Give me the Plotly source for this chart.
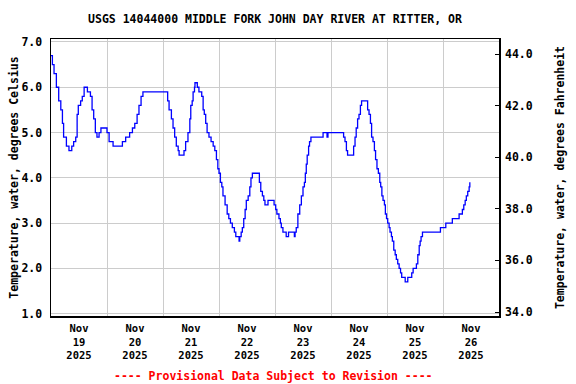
import datetime as dt
import plotly.graph_objects as go

# Hours since 2025-11-19 00:00 and water temperature (deg C)
hours = [0.0, 0.6, 1.3, 2.3, 3.3, 4.2, 4.9, 5.4, 6.6, 7.7, 8.9, 9.7, 10.6, 11.2, 11.7,
         12.7, 13.4, 14.2, 15.6, 16.9, 17.6, 18.3, 19.0, 19.7, 20.6, 21.4, 24.0, 24.9,
         26.6, 30.6, 32.0, 33.7, 34.9, 35.9, 36.9, 37.7, 38.6, 39.4, 49.5, 50.0, 50.6,
         51.6, 52.3, 53.0, 53.7, 54.5, 54.9, 57.0, 57.7, 58.7, 59.5, 59.9, 60.5, 60.9,
         61.5, 61.7, 62.7, 63.4, 64.6, 65.2, 65.7, 66.3, 66.9, 67.7, 68.6, 69.5, 70.2,
         70.9, 71.5, 72.0, 72.6, 73.2, 73.7, 74.6, 75.5, 76.2, 76.9, 77.7, 78.6, 79.2,
         80.6, 80.9, 81.5, 82.0, 82.6, 83.2, 83.7, 84.5, 85.2, 85.7, 86.3, 89.3, 89.9,
         90.6, 91.2, 91.7, 93.0, 95.6, 96.3, 96.8, 97.7, 98.3, 98.7, 99.4, 100.8, 101.8,
         104.3, 104.6, 105.1, 105.8, 106.6, 107.3, 108.0, 108.6, 109.0, 109.4, 109.8,
         110.4, 110.8, 111.4, 116.6, 118.3, 118.7, 125.4, 126.0, 126.6, 127.1, 129.7,
         130.3, 130.8, 131.4, 132.0, 132.6, 133.1, 135.7, 136.3, 136.9, 137.4, 138.0,
         138.6, 139.1, 139.7, 140.3, 140.9, 141.3, 141.8, 142.3, 142.9, 143.3, 143.8,
         144.3, 144.9, 145.3, 145.9, 146.3, 146.9, 147.5, 148.0, 148.6, 149.2, 149.8,
         150.3, 151.8, 152.9, 154.6, 155.2, 156.6, 157.2, 157.8, 158.2, 158.6, 159.2,
         166.9, 169.2, 172.0, 174.9, 176.3, 176.9, 177.5, 178.0, 178.6, 179.2, 179.5]
temp_c = [6.7, 6.5, 6.3, 6.0, 5.7, 5.5, 5.2, 4.9, 4.7, 4.6, 4.7, 4.8, 4.9, 5.4, 5.6,
          5.7, 5.8, 6.0, 5.9, 5.8, 5.5, 5.3, 5.0, 4.9, 5.0, 5.1, 5.0, 4.8,
          4.7, 4.8, 4.9, 5.0, 5.1, 5.2, 5.4, 5.6, 5.8, 5.9, 5.9, 5.7, 5.5,
          5.3, 5.1, 4.9, 4.7, 4.6, 4.5, 4.6, 4.8, 5.0, 5.3, 5.6, 5.7, 5.9,
          6.0, 6.1, 6.0, 5.9, 5.8, 5.5, 5.4, 5.2, 5.0, 4.9, 4.8, 4.7, 4.6,
          4.4, 4.2, 4.1, 3.9, 3.8, 3.6, 3.4, 3.2, 3.1, 3.0, 2.9, 2.8, 2.7,
          2.6, 2.7, 2.8, 2.9, 3.1, 3.3, 3.5, 3.6, 3.8, 4.0, 4.1, 3.9, 3.7,
          3.6, 3.5, 3.4, 3.5, 3.4, 3.3, 3.2, 3.1, 3.0, 2.9, 2.8, 2.7, 2.8,
          2.7, 2.8, 2.9, 3.2, 3.4, 3.6, 3.8, 3.9, 4.1, 4.3, 4.5,
          4.7, 4.8, 4.9, 5.0, 4.9, 5.0, 4.9, 4.8, 4.6, 4.5, 4.7,
          4.9, 5.1, 5.3, 5.4, 5.6, 5.7, 5.5, 5.4, 5.2, 4.9, 4.8,
          4.6, 4.4, 4.2, 4.1, 3.9, 3.8, 3.6, 3.5, 3.4, 3.2, 3.1,
          3.0, 2.9, 2.8, 2.7, 2.6, 2.4, 2.3, 2.2, 2.1, 2.0, 1.9,
          1.8, 1.7, 1.8, 1.9, 2.0, 2.1, 2.3, 2.5, 2.6, 2.7, 2.8,
          2.9, 3.0, 3.1, 3.2, 3.3, 3.4, 3.5, 3.6, 3.7, 3.8, 3.9]

start = dt.datetime(2025, 11, 19)
times = [start + dt.timedelta(hours=h) for h in hours]

day_labels = ["Nov<br>19<br>2025", "Nov<br>20<br>2025", "Nov<br>21<br>2025",
              "Nov<br>22<br>2025", "Nov<br>23<br>2025", "Nov<br>24<br>2025",
              "Nov<br>25<br>2025", "Nov<br>26<br>2025"]
day_ticks = [start + dt.timedelta(days=i, hours=12) for i in range(len(day_labels))]
c_ticks = [1, 2, 3, 4, 5, 6, 7]
f_ticks = [34, 36, 38, 40, 42, 44]

FONT = "DejaVu Sans Mono"
fs = 11.5
grid = "#CCCCCC"

fig = go.Figure()
fig.add_trace(go.Scatter(x=times, y=temp_c, mode="lines", line=dict(color="#0000FF", width=1.3, shape="hv"),
                         showlegend=False, hoverinfo="skip"))
fig.add_trace(go.Scatter(x=[], y=[], yaxis="y2", showlegend=False))

fig.update_layout(
    width=576, height=384,
    margin=dict(l=51, r=77, t=39, b=68),
    paper_bgcolor="white", plot_bgcolor="white",
    font=dict(family=FONT, size=fs, color="black", weight="bold"),
    title=dict(text="USGS 14044000 MIDDLE FORK JOHN DAY RIVER AT RITTER, OR",
               x=(51 + 499) / 2 / 576, xanchor="center", xref="container",
               y=1 - 19 / 384, yanchor="middle", yref="container",
               font=dict(family=FONT, size=fs, color="black", weight="bold")),
    xaxis=dict(range=[start, start + dt.timedelta(days=8)], type="date",
               tickvals=day_ticks, ticktext=day_labels, ticks="", showgrid=False,
               showline=True, linecolor="black", linewidth=1.5, mirror=True,
               automargin=False, ticklabelstandoff=2,
               minor=dict(dtick=86400000, tick0="2025-11-19", showgrid=True,
                          gridcolor=grid, gridwidth=1, ticks=""),
               tickfont=dict(family=FONT, size=10.5, weight="bold"), zeroline=False),
    yaxis=dict(range=[0.947, 7.066], tickvals=c_ticks, tickformat=".1f",
               showgrid=True, gridcolor=grid, gridwidth=1, ticks="",
               showline=True, linecolor="black", linewidth=1.5, mirror=True,
               zeroline=False, ticklabelstandoff=5, automargin=False,
               title=dict(text="Temperature, water, degrees Celsius", standoff=0,
                          font=dict(family=FONT, size=fs, weight="bold"))),
    yaxis2=dict(range=[33.845, 44.583], overlaying="y", side="right", anchor="x",
                tickvals=f_ticks, tickformat=".1f", showgrid=False, zeroline=False,
                ticks="inside", ticklen=4, tickcolor="black", tickwidth=1,
                ticklabelstandoff=5, automargin=False,
                title=dict(text="Temperature, water, degrees Fahrenheit", standoff=24,
                           font=dict(family=FONT, size=fs, weight="bold"))),
    annotations=[dict(text="---- Provisional Data Subject to Revision ----",
                      x=(274 - 51.3) / 448, xref="paper", xanchor="center",
                      y=(315.7 - 376) / 276.4, yref="paper", yanchor="middle",
                      showarrow=False,
                      font=dict(family=FONT, size=fs, color="#FF0000", weight="bold"))],
)

fig.write_html("out.html", config={"displayModeBar": False, "staticPlot": True},
               post_script="document.body.style.margin='0';document.body.style.padding='0';")
